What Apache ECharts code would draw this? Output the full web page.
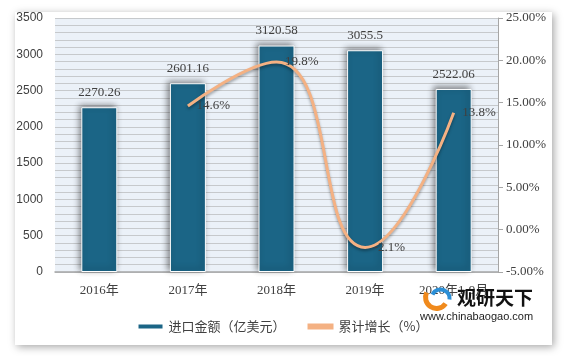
<!DOCTYPE html>
<html><head><meta charset="utf-8">
<script src="https://cdn.jsdelivr.net/npm/echarts@6/dist/echarts.min.js"></script>
<style>html,body{margin:0;padding:0;background:#fff}#c{width:565px;height:356px}</style>
</head><body><div id="c"></div>
<script>
var categories = ['2016年', '2017年', '2018年', '2019年', '2020年1-9月'];
var importValues = [2270.26, 2601.16, 3120.58, 3055.5, 2522.06];
var growthValues = [null, 14.6, 19.8, -2.1, 13.8];
var barName = '进口金额（亿美元）';
var lineName = '累计增长（%）';

var chart = echarts.init(document.getElementById('c'));
var serif = '"Liberation Serif", "Noto Sans CJK SC", serif';
chart.setOption({
  animation: false,
  backgroundColor: '#ffffff',
  graphic: [
    {type: 'rect', z: -10, shape: {x: 15, y: 12, width: 537, height: 333},
     style: {fill: '#ffffff', shadowBlur: 8, shadowColor: 'rgba(0,0,0,0.35)', shadowOffsetX: 2, shadowOffsetY: 2}},
    {type: 'text', left: 457, top: 288, z: 20, style: {text: '观研天下', fill: '#111', font: 'bold 19px "Noto Sans CJK SC"'}},
    {type: 'text', left: 420, top: 311, z: 20, style: {text: 'www.chinabaogao.com', fill: '#222', font: '11px "Liberation Sans", sans-serif'}},
    {type: 'arc', left: 423, top: 290, z: 20, shape: {cx: 0, cy: 0, r: 11, startAngle: 0.6, endAngle: 3.6}, style: {stroke: '#F08A1C', lineWidth: 5, fill: null}},
    {type: 'arc', left: 430, top: 287, z: 20, shape: {cx: 0, cy: 0, r: 9, startAngle: 3.6, endAngle: 6.4}, style: {stroke: '#2C8FD6', lineWidth: 4, fill: null}}
  ],
  grid: {left: 55, right: 67, top: 18, bottom: 84, show: true, backgroundColor: '#EBF1F8', borderWidth: 0},
  legend: {
    bottom: 18, left: 'center', itemGap: 22, itemWidth: 26, itemHeight: 6,
    textStyle: {color: '#404040', fontSize: 13, fontFamily: '"Noto Sans CJK SC"'},
    data: [{name: barName, icon: 'rect'}, {name: lineName, icon: 'rect', itemStyle: {color: '#F4B183'}}]
  },
  xAxis: {
    type: 'category', data: categories,
    axisLine: {lineStyle: {color: '#A6A6A6', width: 1.5}},
    axisTick: {show: false},
    axisLabel: {color: '#404040', fontSize: 13, fontFamily: serif, margin: 12, interval: 0}
  },
  yAxis: [
    {type: 'value', min: 0, max: 3500, interval: 500,
     axisLine: {show: false}, axisTick: {show: false},
     axisLabel: {color: '#404040', fontSize: 12, fontFamily: '"Liberation Sans", sans-serif', margin: 12,
       formatter: function (v) { return String(v); }},
     splitLine: {lineStyle: {color: '#C6C9CC', width: 1}},
     minorTick: {show: false, splitNumber: 5},
     minorSplitLine: {show: true, lineStyle: {color: '#C6C9CC', width: 1}}
    },
    {type: 'value', min: -5, max: 25, interval: 5,
     axisLine: {show: true, lineStyle: {color: '#A6A6A6'}},
     axisTick: {show: true, length: 5, lineStyle: {color: '#A6A6A6'}},
     axisLabel: {color: '#404040', fontSize: 13, fontFamily: serif, margin: 8,
       formatter: function (v) { return v.toFixed(2) + '%'; }},
     splitLine: {show: false}
    }
  ],
  series: [
    {name: barName, type: 'bar', data: importValues, barWidth: 36, yAxisIndex: 0,
     itemStyle: {color: '#1B6586', borderColor: '#ffffff', borderWidth: 1,
       shadowBlur: 6, shadowColor: 'rgba(0,0,0,0.45)', shadowOffsetX: -2, shadowOffsetY: -2},
     label: {show: true, position: 'top', distance: 8, color: '#404040', fontSize: 13, fontFamily: serif}
    },
    {name: lineName, type: 'line', data: growthValues, yAxisIndex: 1, smooth: 0.5,
     showSymbol: true, symbol: 'circle', symbolSize: 1, connectNulls: false,
     lineStyle: {color: '#F4B183', width: 3, shadowBlur: 3, shadowColor: 'rgba(0,0,0,0.35)', shadowOffsetY: 2},
     itemStyle: {color: 'rgba(244,177,131,0)', borderWidth: 0},
     label: {show: true, position: 'right', distance: 8, color: '#404040', fontSize: 13, fontFamily: serif,
       formatter: function (p) { return p.value + '%'; }}
    }
  ]
});
</script></body></html>
